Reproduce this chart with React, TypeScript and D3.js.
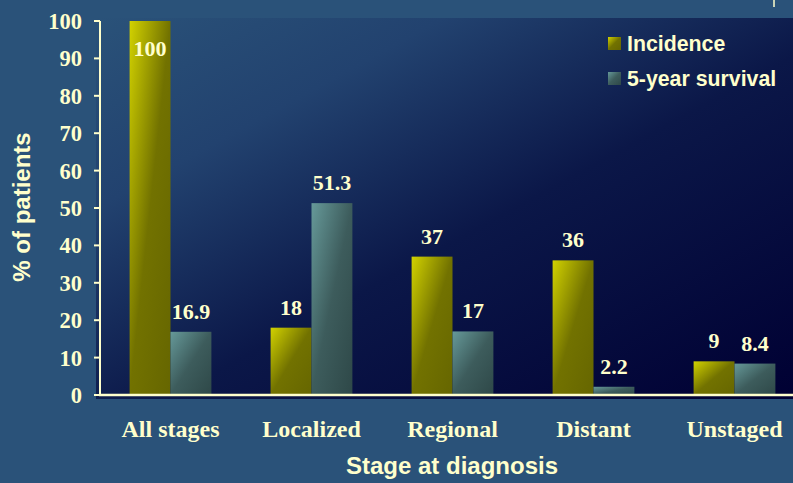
import React from "react";
import { scaleBand, scaleLinear } from "d3";

const stages = ["All stages", "Localized", "Regional", "Distant", "Unstaged"];
const incidence = [100, 18, 37, 36, 9];
const survival = [16.9, 51.3, 17, 2.2, 8.4];
const series = ["Incidence", "5-year survival"];
const yTicks = [0, 10, 20, 30, 40, 50, 60, 70, 80, 90, 100];

const W = 793;
const H = 483;
const cream = "#ffffcc";
const serif = "'Liberation Serif', 'Times New Roman', serif";
const sans = "'Liberation Sans', Arial, sans-serif";

function App() {
    const x = scaleBand<string>()
        .domain(stages)
        .range([100, 805])
        .paddingInner(0.42)
        .paddingOuter(0.21);
    const sub = scaleBand<string>()
        .domain(series)
        .range([0, x.bandwidth()]);
    const y = scaleLinear().domain([0, 100]).range([395, 21]);

    const bars = stages.flatMap((s, i) => [
        { stage: s, key: series[0], value: incidence[i], fill: "url(#gInc)" },
        { stage: s, key: series[1], value: survival[i], fill: "url(#gSur)" }
    ]);

    return (
        <svg
            width={W}
            height={H}
            style={{ position: "absolute", left: 0, top: 0 }}
        >
            <defs>
                <linearGradient id="gBg" x1="0" y1="0" x2="1" y2="1">
                    <stop offset="0" stopColor="#2a5279" />
                    <stop offset="0.25" stopColor="#22426f" />
                    <stop offset="0.55" stopColor="#0b1748" />
                    <stop offset="1" stopColor="#000033" />
                </linearGradient>
                <linearGradient id="gInc" x1="0" y1="0" x2="1" y2="1">
                    <stop offset="0" stopColor="#d2d200" />
                    <stop offset="0.5" stopColor="#727200" />
                    <stop offset="1" stopColor="#666600" />
                </linearGradient>
                <linearGradient id="gSur" x1="0" y1="0" x2="1" y2="1">
                    <stop offset="0" stopColor="#669999" />
                    <stop offset="0.5" stopColor="#3d5c5c" />
                    <stop offset="1" stopColor="#2e4848" />
                </linearGradient>
            </defs>
            <rect width={W} height={H} fill="#2a5279" />
            {/* plot area */}
            <rect x={96} y={18} width={W - 96} height={381} fill="url(#gBg)" />
            <line x1={774} x2={774} y1={0} y2={7} stroke={cream} strokeWidth={1.5} />

            {bars.map(b => {
                const bx = x(b.stage)! + sub(b.key)!;
                const by = y(b.value);
                const inside = b.value > 90;
                return (
                    <g key={b.stage + b.key}>
                        <rect
                            x={bx}
                            y={by}
                            width={sub.bandwidth()}
                            height={y(0) - by}
                            fill={b.fill}
                        />
                        <text
                            x={bx + sub.bandwidth() / 2}
                            y={inside ? by + 35 : by - 13}
                            textAnchor="middle"
                            fontFamily={serif}
                            fontWeight="bold"
                            fontSize={22}
                            fill={cream}
                        >
                            {b.value}
                        </text>
                    </g>
                );
            })}

            {/* axes */}
            <line x1={100} x2={100} y1={y(100)} y2={y(0)} stroke={cream} strokeWidth={2} />
            <line x1={99} x2={W} y1={y(0)} y2={y(0)} stroke={cream} strokeWidth={2.5} />
            {yTicks.map(t => (
                <g key={t}>
                    <line x1={94} x2={100} y1={y(t)} y2={y(t)} stroke={cream} strokeWidth={2} />
                    <text
                        x={82}
                        y={y(t) + 8}
                        textAnchor="end"
                        fontFamily={serif}
                        fontWeight="bold"
                        fontSize={22.5}
                        fill={cream}
                    >
                        {t}
                    </text>
                </g>
            ))}
            {stages.map(s => (
                <text
                    key={s}
                    x={x(s)! + x.bandwidth() / 2}
                    y={437}
                    textAnchor="middle"
                    fontFamily={serif}
                    fontWeight="bold"
                    fontSize={24}
                    fill={cream}
                >
                    {s}
                </text>
            ))}
            <text
                x={452}
                y={474}
                textAnchor="middle"
                fontFamily={sans}
                fontWeight="bold"
                fontSize={24}
                fill={cream}
            >
                Stage at diagnosis
            </text>
            <text
                transform="translate(30,207) rotate(-90)"
                textAnchor="middle"
                fontFamily={sans}
                fontWeight="bold"
                fontSize={24}
                fill={cream}
            >
                % of patients
            </text>

            {/* legend */}
            {series.map((s, i) => (
                <g key={s} transform={`translate(608,${37 + i * 35})`}>
                    <rect width={13} height={13} fill={i === 0 ? "url(#gInc)" : "url(#gSur)"} />
                    <text
                        x={19}
                        y={14}
                        fontFamily={sans}
                        fontWeight="bold"
                        fontSize={21.3}
                        fill={cream}
                    >
                        {s}
                    </text>
                </g>
            ))}
        </svg>
    );
}

export default App;
